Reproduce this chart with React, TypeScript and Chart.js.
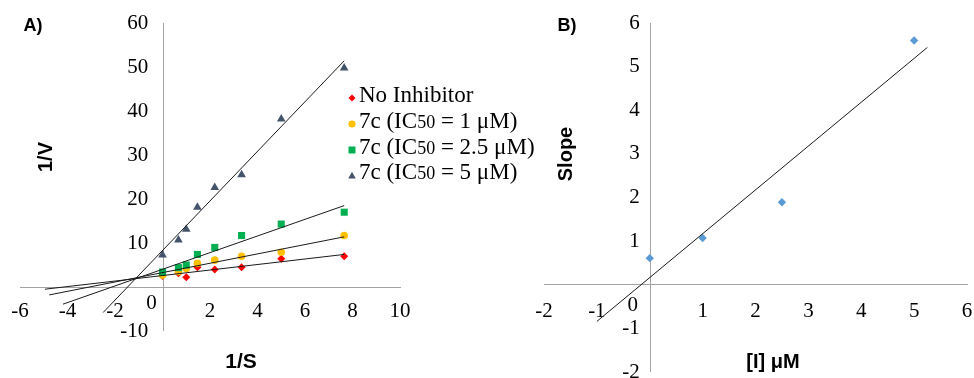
import React, { useEffect, useRef } from "react";
import { Chart, registerables } from "chart.js";

Chart.register(...registerables);

// ---------- Panel A: Lineweaver-Burk data ----------
const invS = [0, 0.67, 1, 1.47, 2.2, 3.33, 5, 7.65];
const noInhibitor = [2.5, 3.1, 2.2, 4.5, 4.0, 4.5, 6.4, 7.0];
const ic1 = [2.7, 3.5, 4.2, 5.4, 6.1, 7.0, 7.9, 11.7];
const ic25 = [3.4, 4.4, 5.0, 7.4, 9.0, 11.7, 14.3, 17.0];
const ic5 = [7.3, 10.7, 13.1, 18.1, 22.6, 25.5, 38.2, 49.8];

// trend line end points
const fitNoInhX = [-4.95, 7.65];
const fitNoInhY = [-0.5, 7.4];
const fitIc1X = [-4.77, 7.65];
const fitIc1Y = [-1.8, 11.4];
const fitIc25X = [-4.19, 7.65];
const fitIc25Y = [-3.9, 18.5];
const fitIc5X = [-2.5, 7.65];
const fitIc5Y = [-5.8, 51.4];

const axisAX = { min: -6, max: 10, step: 2 };
const axisAY = { min: -10, max: 60, step: 10 };

// ---------- Panel B: slope replot ----------
const conc = [0, 1, 2.5, 5];
const slopes = [0.61, 1.07, 1.89, 5.6];
const fitBX = [-1.0, 5.25];
const fitBY = [-0.84, 5.44];

const axisBX = { min: -2, max: 6, step: 1 };
const axisBY = { min: -2, max: 6, step: 1 };

const legendLabels = ["No Inhibitor", "1", "2.5", "5"];

const SERIF = '"Liberation Serif", "Times New Roman", serif';
const SANS = '"Liberation Sans", Arial, sans-serif';
const AXIS_COLOR = "#a3a3a3";
const TREND_COLOR = "#1a1a1a";

const zip = (xs: number[], ys: number[]) => xs.map((x, i) => ({ x, y: ys[i] }));

// draws the vertical axis line at x = 0 and the shared "0" label
const crossAxis = (dx: number, dy: number) => ({
  id: "crossAxis",
  beforeDatasetsDraw(chart: any) {
    const { ctx, scales, chartArea } = chart;
    const px = Math.round(scales.x.getPixelForValue(0)) + 0.5;
    ctx.save();
    ctx.strokeStyle = AXIS_COLOR;
    ctx.lineWidth = 1;
    ctx.beginPath();
    ctx.moveTo(px, chartArea.top);
    ctx.lineTo(px, chartArea.bottom);
    ctx.stroke();
    ctx.restore();
  },
  afterDraw(chart: any) {
    const { ctx, scales } = chart;
    ctx.save();
    ctx.font = `21px ${SERIF}`;
    ctx.fillStyle = "#000";
    ctx.textAlign = "center";
    ctx.textBaseline = "middle";
    ctx.fillText("0", scales.x.getPixelForValue(0) + dx, scales.y.getPixelForValue(0) + dy);
    ctx.restore();
  },
});

const axisOpts = (
  rng: { min: number; max: number; step: number },
  position: any,
  padding: number,
  border: boolean
) => ({
  type: "linear",
  min: rng.min,
  max: rng.max,
  position,
  grid: { display: false, drawTicks: false },
  border: { display: border, color: AXIS_COLOR, width: 1 },
  ticks: {
    stepSize: rng.step,
    autoSkip: false,
    maxRotation: 0,
    padding,
    color: "#000",
    font: { family: SERIF, size: 21 },
    callback: (v: any) => (Number(v) === 0 ? "" : String(v)),
  },
});

const trend = (xs: number[], ys: number[]) => ({
  type: "line",
  data: zip(xs, ys),
  borderColor: TREND_COLOR,
  borderWidth: 1,
  pointRadius: 0,
  showLine: true,
  fill: false,
  order: 0,
});

function PanelA() {
  const ref = useRef<HTMLCanvasElement>(null);
  useEffect(() => {
    const chart = new Chart(ref.current as HTMLCanvasElement, {
      type: "scatter",
      data: {
        datasets: [
          trend(fitNoInhX, fitNoInhY),
          trend(fitIc1X, fitIc1Y),
          trend(fitIc25X, fitIc25Y),
          trend(fitIc5X, fitIc5Y),
          {
            label: "No Inhibitor",
            data: zip(invS, noInhibitor),
            backgroundColor: "#ff0000",
            borderColor: "#ff0000",
            pointStyle: "rectRot",
            pointRadius: 4,
            borderWidth: 0,
            order: 4,
          },
          {
            label: "IC50 = 1",
            data: zip(invS, ic1),
            backgroundColor: "#ffc000",
            borderColor: "#ffc000",
            pointStyle: "circle",
            pointRadius: 3.8,
            borderWidth: 0,
            order: 3,
          },
          {
            label: "IC50 = 2.5",
            data: zip(invS, ic25),
            backgroundColor: "#00b050",
            borderColor: "#00b050",
            pointStyle: "rect",
            pointRadius: 5,
            borderWidth: 0,
            order: 2,
          },
          {
            label: "IC50 = 5",
            data: zip(invS, ic5),
            backgroundColor: "#44546a",
            borderColor: "#44546a",
            pointStyle: "triangle",
            pointRadius: 5,
            borderWidth: 0,
            order: 1,
          },
        ] as any,
      },
      options: {
        animation: false,
        responsive: false,
        maintainAspectRatio: false,
        devicePixelRatio: 1,
        layout: { padding: { left: 30, right: 30, top: 23, bottom: 47 } },
        plugins: { legend: { display: false }, tooltip: { enabled: false } },
        scales: {
          x: axisOpts(axisAX, { y: 0 }, 12, true),
          y: axisOpts(axisAY, { x: -0.6 }, 0, false),
        } as any,
      },
      plugins: [crossAxis(-11, 16)],
    });
    return () => chart.destroy();
  }, []);
  return (
    <canvas
      ref={ref}
      width={440}
      height={378}
      style={{ position: "absolute", left: -10, top: 0, width: 440, height: 378 }}
    />
  );
}

function PanelB() {
  const ref = useRef<HTMLCanvasElement>(null);
  useEffect(() => {
    const chart = new Chart(ref.current as HTMLCanvasElement, {
      type: "scatter",
      data: {
        datasets: [
          trend(fitBX, fitBY),
          {
            label: "Slope",
            data: zip(conc, slopes),
            backgroundColor: "#5b9bd5",
            borderColor: "#5b9bd5",
            pointStyle: "rectRot",
            pointRadius: 4.2,
            borderWidth: 0,
            order: 1,
          },
        ] as any,
      },
      options: {
        animation: false,
        responsive: false,
        maintainAspectRatio: false,
        devicePixelRatio: 1,
        layout: { padding: { left: 24, right: 23, top: 23, bottom: 18 } },
        plugins: { legend: { display: false }, tooltip: { enabled: false } },
        scales: {
          x: axisOpts(axisBX, { y: 0 }, 14, true),
          y: axisOpts(axisBY, { x: -0.19 }, 0, false),
        } as any,
      },
      plugins: [crossAxis(-17, 21)],
    });
    return () => chart.destroy();
  }, []);
  return (
    <canvas
      ref={ref}
      width={470}
      height={390}
      style={{ position: "absolute", left: 520, top: 0, width: 470, height: 390 }}
    />
  );
}

const markerSvg = (i: number) => {
  if (i === 0)
    return <polygon points="4,0.5 7.5,4 4,7.5 0.5,4" fill="#ff0000" />;
  if (i === 1) return <circle cx="4" cy="4" r="3.6" fill="#ffc000" />;
  if (i === 2) return <rect x="0.5" y="0.5" width="7" height="7" fill="#00b050" />;
  return <polygon points="4,0.8 7.8,7.5 0.2,7.5" fill="#44546a" />;
};

function Legend() {
  const rows = [95, 121, 147, 172];
  return (
    <>
      {legendLabels.map((lab, i) => (
        <div
          key={i}
          style={{
            position: "absolute",
            left: 348,
            top: rows[i] - 13,
            height: 26,
            lineHeight: "26px",
            whiteSpace: "nowrap",
            fontFamily: SERIF,
            fontSize: 23,
            color: "#000",
            display: "flex",
            alignItems: "center",
          }}
        >
          <svg
            width={8}
            height={8}
            style={{ marginRight: 3, position: "relative", top: 3 }}
          >
            {markerSvg(i)}
          </svg>
          {i === 0 ? (
            <span>{lab}</span>
          ) : (
            <span>
              7c (IC<span style={{ fontSize: 18 }}>50</span> = {lab} μM)
            </span>
          )}
        </div>
      ))}
    </>
  );
}

const boldText = (
  text: string,
  cx: number,
  cy: number,
  size: number,
  rotate = false
) => (
  <div
    style={{
      position: "absolute",
      left: cx,
      top: cy,
      transform: `translate(-50%, -50%)${rotate ? " rotate(-90deg)" : ""}`,
      fontFamily: SANS,
      fontWeight: 700,
      fontSize: size,
      lineHeight: 1,
      whiteSpace: "nowrap",
      color: "#000",
    }}
  >
    {text}
  </div>
);

export default function App() {
  return (
    <div
      style={{
        position: "fixed",
        left: 0,
        top: 0,
        width: 974,
        height: 378,
        overflow: "hidden",
        background: "#fff",
      }}
    >
      <PanelA />
      <PanelB />
      <Legend />
      {boldText("A)", 33, 25, 18)}
      {boldText("1/V", 45, 157, 20, true)}
      {boldText("1/S", 241, 360, 21)}
      {boldText("B)", 567, 25, 18)}
      {boldText("Slope", 565, 154, 20, true)}
      {boldText("[I] μM", 773, 361, 20)}
    </div>
  );
}
